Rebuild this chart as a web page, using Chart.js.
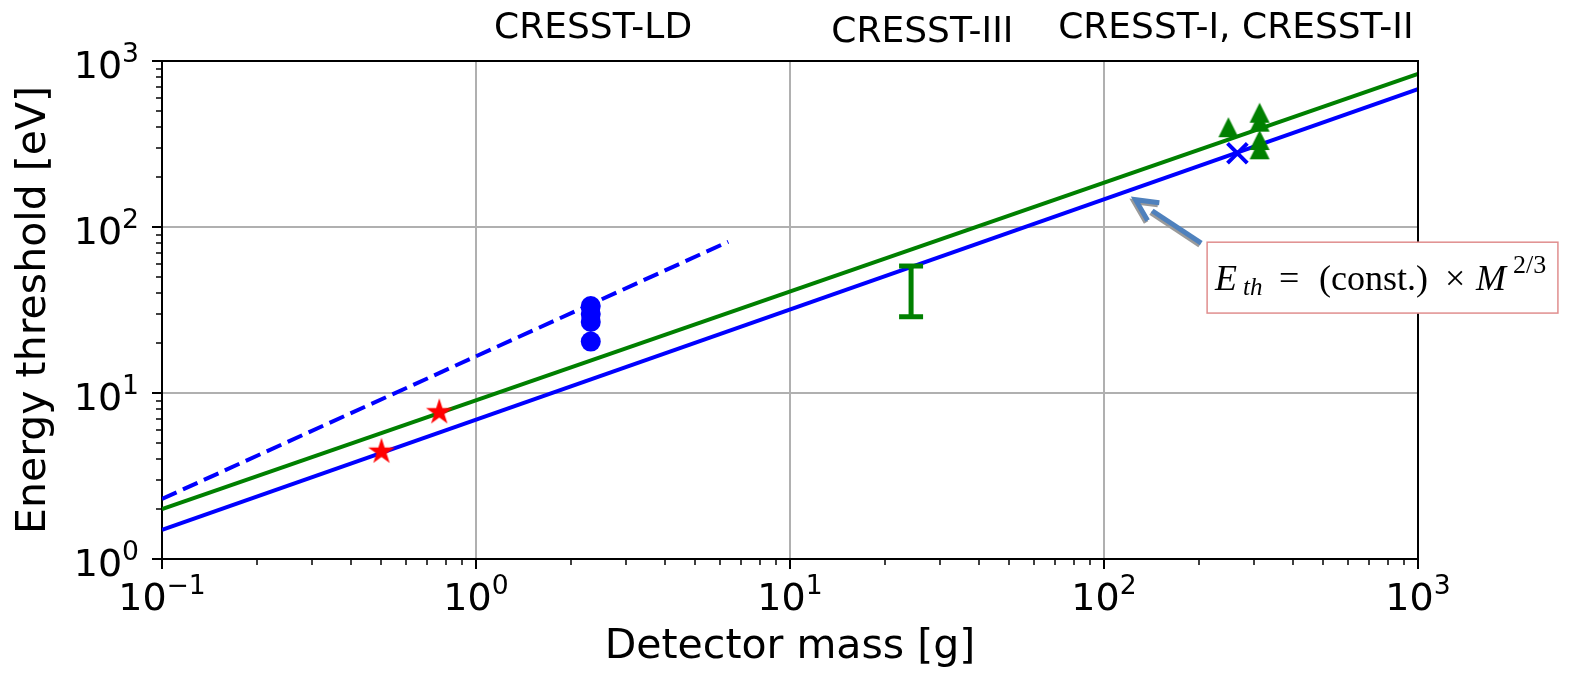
<!DOCTYPE html>
<html><head><meta charset="utf-8">
<script src="https://cdn.jsdelivr.net/npm/chart.js@4/dist/chart.umd.min.js"></script>
<style>html,body{margin:0;padding:0;background:#fff;}canvas{display:block;}</style>
</head><body>
<canvas id="c" width="1571" height="674"></canvas>
<script>
// ---------------- data ----------------
const xTickValues = [0.1, 1, 10, 100, 1000];
const xTickExponents = ['−1', '0', '1', '2', '3'];
const yTickValues = [1, 10, 100, 1000];
const yTickExponents = ['0', '1', '2', '3'];
const tickBase = '10';

const greenLineMass = [0.1, 1000];
const greenLineE = [2.0, 836];
const blueLineMass = [0.1, 1000];
const blueLineE = [1.5, 676];
const dashedLineMass = [0.1, 6.36];
const dashedLineE = [2.3, 81.5];

const starMass = [0.50, 0.764];
const starE = [4.43, 7.65];
const ldMass = [2.32, 2.32, 2.32, 2.32];
const ldE = [33.4, 29.9, 26.8, 20.4];
const cresst3Mass = [24.3, 24.3];
const cresst3E = [58.2, 28.8];
const triMass = [249, 313, 313, 313, 313];
const triE = [399, 488, 431, 334, 294];
const crossMass = [266];
const crossE = [278];

const topLabels = ['CRESST-LD', 'CRESST-III', 'CRESST-I, CRESST-II'];
const topLabelMass = [2.36, 26.4, 263];

const arrowTail = [204, 80];     // [mass, energy]
const arrowTip = [126, 146];
const boxMass = [213, 2790];     // left, right
const boxEnergy = [81, 30.3];    // top, bottom

// ---------------- helpers ----------------
const pts = (xs, ys) => xs.map((v, i) => ({x: v, y: ys[i]}));

function makeStar(r, color) {
  const s = Math.ceil(r * 2 + 4);
  const c = document.createElement('canvas');
  c.width = c.height = s;
  const g = c.getContext('2d');
  g.fillStyle = color;
  g.beginPath();
  for (let i = 0; i < 10; i++) {
    const rr = i % 2 === 0 ? r : r * 0.382;
    const a = -Math.PI / 2 + i * Math.PI / 5;
    const px = s / 2 + rr * Math.cos(a), py = s / 2 + rr * Math.sin(a);
    if (i) g.lineTo(px, py); else g.moveTo(px, py);
  }
  g.closePath(); g.fill();
  return c;
}
function makeTriangle(h, color) {
  const s = Math.ceil(h + 4);
  const c = document.createElement('canvas');
  c.width = c.height = s;
  const g = c.getContext('2d');
  g.fillStyle = color;
  g.beginPath();
  g.moveTo(s / 2, s / 2 - h / 2);
  g.lineTo(s / 2 + h / 2, s / 2 + h / 2);
  g.lineTo(s / 2 - h / 2, s / 2 + h / 2);
  g.closePath(); g.fill();
  return c;
}
const starImg = makeStar(14, '#ff0000');
const triImg = makeTriangle(20, '#008000');

const bgPlugin = {
  id: 'bg',
  beforeDraw(chart) {
    const ctx = chart.ctx;
    ctx.save(); ctx.fillStyle = '#fff';
    ctx.fillRect(0, 0, chart.width, chart.height); ctx.restore();
  }
};

const BASE_FONT = '38px "DejaVu Sans"';
const EXP_FONT = '26.6px "DejaVu Sans"';
function powerLabel(ctx, exp, x, baseline, align) {
  ctx.font = BASE_FONT;
  const wb = ctx.measureText(tickBase).width;
  ctx.font = EXP_FONT;
  const we = ctx.measureText(exp).width;
  const total = wb + we;
  const start = align === 'center' ? x - total / 2 : x - total;
  ctx.textAlign = 'left'; ctx.textBaseline = 'alphabetic';
  ctx.font = BASE_FONT;
  ctx.fillText(tickBase, start, baseline);
  ctx.font = EXP_FONT;
  ctx.fillText(exp, start + wb, baseline - 16.5);
}

const framePlugin = {
  id: 'frame',
  afterDraw(chart) {
    const {ctx, chartArea: ca, scales: {x, y}} = chart;
    ctx.save();
    ctx.strokeStyle = '#000';
    // minor ticks
    ctx.lineWidth = 1.5;
    for (let i = 0; i < xTickValues.length - 1; i++) {
      for (let k = 2; k < 10; k++) {
        const px = Math.round(x.getPixelForValue(k * xTickValues[i]));
        ctx.beginPath(); ctx.moveTo(px, ca.bottom); ctx.lineTo(px, ca.bottom + 6); ctx.stroke();
      }
    }
    for (let i = 0; i < yTickValues.length - 1; i++) {
      for (let k = 2; k < 10; k++) {
        const py = Math.round(y.getPixelForValue(k * yTickValues[i]));
        ctx.beginPath(); ctx.moveTo(ca.left - 6, py); ctx.lineTo(ca.left, py); ctx.stroke();
      }
    }
    // top & right spines
    ctx.lineWidth = 2;
    ctx.beginPath();
    ctx.moveTo(ca.left - 1, ca.top); ctx.lineTo(ca.right, ca.top); ctx.lineTo(ca.right, ca.bottom + 1);
    ctx.stroke();

    // tick labels (10^n, mathtext style)
    ctx.fillStyle = '#000';
    xTickValues.forEach((v, i) => {
      powerLabel(ctx, xTickExponents[i], x.getPixelForValue(v), ca.bottom + 51, 'center');
    });
    yTickValues.forEach((v, i) => {
      powerLabel(ctx, yTickExponents[i], ca.left - 23, y.getPixelForValue(v) + 17, 'right');
    });

    // top labels
    ctx.font = '36px "DejaVu Sans"';
    ctx.textAlign = 'center'; ctx.textBaseline = 'alphabetic';
    const raise = [23, 19, 23];
    topLabels.forEach((t, i) => {
      ctx.fillText(t, x.getPixelForValue(topLabelMass[i]), ca.top - raise[i]);
    });

    // annotation arrow
    const tx = x.getPixelForValue(arrowTail[0]), ty = y.getPixelForValue(arrowTail[1]);
    const hx = x.getPixelForValue(arrowTip[0]), hy = y.getPixelForValue(arrowTip[1]);
    const drawArrow = (dx, dy, color) => {
      const ang = Math.atan2(ty - hy, tx - hx);
      const L = 24, spread = 0.46;
      ctx.strokeStyle = color; ctx.lineWidth = 5; ctx.lineCap = 'butt'; ctx.lineJoin = 'miter';
      ctx.beginPath();
      ctx.moveTo(tx + dx, ty + dy);
      ctx.lineTo(hx + 20 * Math.cos(ang) + dx, hy + 20 * Math.sin(ang) + dy);
      ctx.stroke();
      ctx.beginPath();
      ctx.moveTo(hx + L * Math.cos(ang - spread) + dx, hy + L * Math.sin(ang - spread) + dy);
      ctx.lineTo(hx + dx, hy + dy);
      ctx.lineTo(hx + L * Math.cos(ang + spread) + dx, hy + L * Math.sin(ang + spread) + dy);
      ctx.stroke();
    };
    drawArrow(-1.5, 2, '#9a9a9a');
    drawArrow(0, 0, '#4f81bd');

    // annotation box
    const bx0 = x.getPixelForValue(boxMass[0]), bx1 = x.getPixelForValue(boxMass[1]);
    const by0 = y.getPixelForValue(boxEnergy[0]), by1 = y.getPixelForValue(boxEnergy[1]);
    ctx.fillStyle = '#fff';
    ctx.fillRect(bx0, by0, bx1 - bx0, by1 - by0);
    ctx.strokeStyle = '#e08e8e'; ctx.lineWidth = 1.5;
    ctx.strokeRect(bx0, by0, bx1 - bx0, by1 - by0);

    // formula, laid out with TeX-like spacing
    const baseY = by1 - 23;
    const segs = [
      {t: 'E', font: 'italic 36px "Liberation Serif"', dx: 8, dy: 0},
      {t: 'th', font: 'italic 25px "Liberation Serif"', dx: 36, dy: 5},
      {t: '=', font: '36px "Liberation Serif"', dx: 72, dy: 0},
      {t: '(const.)', font: '36px "Liberation Serif"', dx: 112, dy: 0},
      {t: '×', font: '36px "Liberation Serif"', dx: 238, dy: 0},
      {t: 'M', font: 'italic 36px "Liberation Serif"', dx: 269, dy: 0},
      {t: '2/3', font: '26px "Liberation Serif"', dx: 306, dy: -17},
    ];
    ctx.fillStyle = '#000'; ctx.textAlign = 'left'; ctx.textBaseline = 'alphabetic';
    segs.forEach(s => {
      ctx.font = s.font;
      ctx.fillText(s.t, bx0 + s.dx, baseY + s.dy);
    });
    ctx.restore();
  }
};

const gridCommon = {
  color: '#b0b0b0', lineWidth: 2, tickColor: '#000', tickLength: 10, tickWidth: 2, drawTicks: true
};

new Chart(document.getElementById('c'), {
  type: 'scatter',
  data: {
    datasets: [
      {data: pts(starMass, starE), pointStyle: starImg, order: 0},
      {data: pts(crossMass, crossE), pointStyle: 'crossRot', pointRadius: 14, borderColor: '#0000ff',
       backgroundColor: '#0000ff', pointBorderWidth: 4, order: 1},
      {data: pts(triMass, triE), pointStyle: triImg, order: 2},
      {data: pts(ldMass, ldE), pointStyle: 'circle', pointRadius: 10, backgroundColor: '#0000ff',
       borderColor: '#0000ff', pointBorderWidth: 0, order: 3},
      {data: pts(cresst3Mass, cresst3E), showLine: true, borderColor: '#008000', borderWidth: 5,
       pointStyle: 'line', pointRadius: 12, pointBorderWidth: 5, pointBorderColor: '#008000', order: 4},
      {data: pts(dashedLineMass, dashedLineE), showLine: true, borderColor: '#0000ff', borderWidth: 4,
       borderDash: [16, 7], pointRadius: 0, order: 5},
      {data: pts(blueLineMass, blueLineE), showLine: true, borderColor: '#0000ff', borderWidth: 4,
       pointRadius: 0, order: 6},
      {data: pts(greenLineMass, greenLineE), showLine: true, borderColor: '#008000', borderWidth: 4,
       pointRadius: 0, order: 7},
    ]
  },
  options: {
    responsive: false,
    animation: false,
    events: [],
    layout: {padding: {left: 0, top: 61, right: 153, bottom: 0}},
    plugins: {legend: {display: false}, tooltip: {enabled: false}},
    scales: {
      x: {
        type: 'logarithmic', position: 'bottom', min: 0.1, max: 1000,
        afterBuildTicks: s => { s.ticks = xTickValues.map(v => ({value: v})); },
        afterFit: s => { s.height = 115; },
        ticks: {display: false, autoSkip: false, maxRotation: 0, minRotation: 0},
        grid: gridCommon,
        border: {display: true, color: '#000', width: 2},
        title: {display: true, text: 'Detector mass [g]', color: '#000',
          font: {family: 'DejaVu Sans', size: 41}, padding: {top: 0, bottom: 2}}
      },
      y: {
        type: 'logarithmic', position: 'left', min: 1, max: 1000,
        afterBuildTicks: s => { s.ticks = yTickValues.map(v => ({value: v})); },
        afterFit: s => { s.width = 162; },
        ticks: {display: false, autoSkip: false},
        grid: gridCommon,
        border: {display: true, color: '#000', width: 2},
        title: {display: true, text: 'Energy threshold [eV]', color: '#000',
          font: {family: 'DejaVu Sans', size: 41}, padding: {top: 10, bottom: 0}}
      }
    }
  },
  plugins: [bgPlugin, framePlugin]
});
</script>
</body></html>
